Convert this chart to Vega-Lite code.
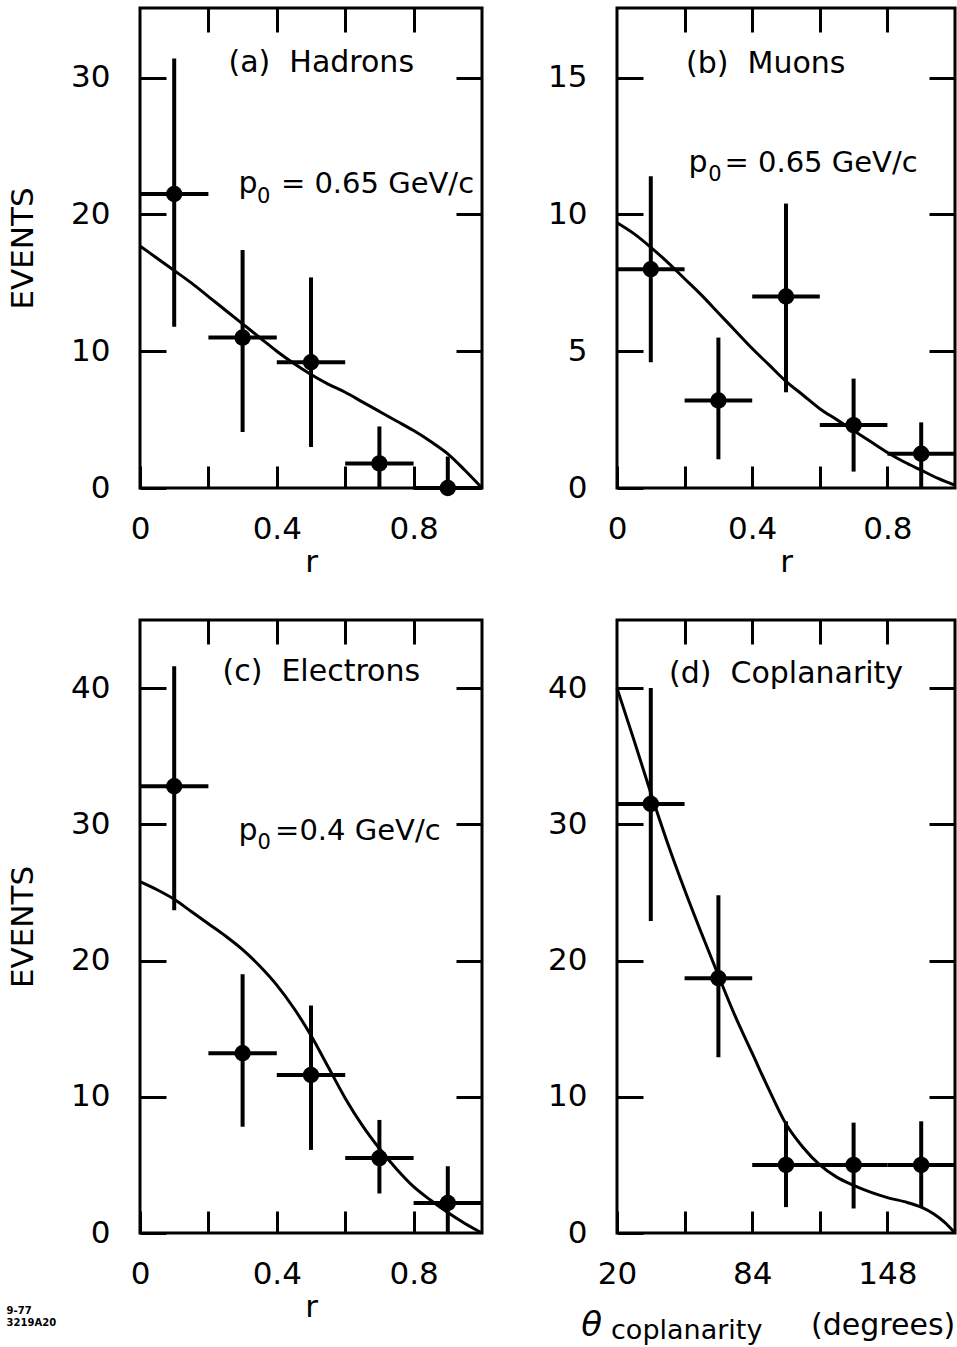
{
  "$schema": "https://vega.github.io/schema/vega-lite/v6.json",
  "background": "white",
  "padding": {"left": 5, "top": 5, "right": 0, "bottom": 0},
  "datasets": {
    "curves": [
      {"panel": "a", "x": 0, "y": 17.7}, {"panel": "a", "x": 0.05, "y": 16.8}, {"panel": "a", "x": 0.1, "y": 15.9}, {"panel": "a", "x": 0.15, "y": 15.0}, {"panel": "a", "x": 0.2, "y": 14.0}, {"panel": "a", "x": 0.25, "y": 13.0}, {"panel": "a", "x": 0.3, "y": 12.0}, {"panel": "a", "x": 0.35, "y": 11.0}, {"panel": "a", "x": 0.4, "y": 10.0}, {"panel": "a", "x": 0.45, "y": 9.1}, {"panel": "a", "x": 0.5, "y": 8.3}, {"panel": "a", "x": 0.55, "y": 7.6}, {"panel": "a", "x": 0.6, "y": 7.0}, {"panel": "a", "x": 0.65, "y": 6.3}, {"panel": "a", "x": 0.7, "y": 5.6}, {"panel": "a", "x": 0.75, "y": 4.9}, {"panel": "a", "x": 0.8, "y": 4.2}, {"panel": "a", "x": 0.85, "y": 3.4}, {"panel": "a", "x": 0.9, "y": 2.5}, {"panel": "a", "x": 0.95, "y": 1.3}, {"panel": "a", "x": 1.0, "y": 0},
      {"panel": "b", "x": 0, "y": 9.7}, {"panel": "b", "x": 0.05, "y": 9.3}, {"panel": "b", "x": 0.1, "y": 8.8}, {"panel": "b", "x": 0.15, "y": 8.25}, {"panel": "b", "x": 0.2, "y": 7.65}, {"panel": "b", "x": 0.25, "y": 7.05}, {"panel": "b", "x": 0.3, "y": 6.4}, {"panel": "b", "x": 0.35, "y": 5.75}, {"panel": "b", "x": 0.4, "y": 5.1}, {"panel": "b", "x": 0.45, "y": 4.5}, {"panel": "b", "x": 0.5, "y": 3.9}, {"panel": "b", "x": 0.55, "y": 3.4}, {"panel": "b", "x": 0.6, "y": 2.9}, {"panel": "b", "x": 0.65, "y": 2.5}, {"panel": "b", "x": 0.7, "y": 2.1}, {"panel": "b", "x": 0.75, "y": 1.7}, {"panel": "b", "x": 0.8, "y": 1.3}, {"panel": "b", "x": 0.85, "y": 0.95}, {"panel": "b", "x": 0.9, "y": 0.65}, {"panel": "b", "x": 0.95, "y": 0.35}, {"panel": "b", "x": 1.0, "y": 0.1},
      {"panel": "c", "x": 0, "y": 25.8}, {"panel": "c", "x": 0.05, "y": 25.2}, {"panel": "c", "x": 0.1, "y": 24.5}, {"panel": "c", "x": 0.15, "y": 23.6}, {"panel": "c", "x": 0.2, "y": 22.7}, {"panel": "c", "x": 0.25, "y": 21.8}, {"panel": "c", "x": 0.3, "y": 20.8}, {"panel": "c", "x": 0.35, "y": 19.6}, {"panel": "c", "x": 0.4, "y": 18.2}, {"panel": "c", "x": 0.45, "y": 16.5}, {"panel": "c", "x": 0.5, "y": 14.5}, {"panel": "c", "x": 0.55, "y": 12.2}, {"panel": "c", "x": 0.6, "y": 9.9}, {"panel": "c", "x": 0.65, "y": 7.9}, {"panel": "c", "x": 0.7, "y": 6.2}, {"panel": "c", "x": 0.75, "y": 4.7}, {"panel": "c", "x": 0.8, "y": 3.4}, {"panel": "c", "x": 0.85, "y": 2.4}, {"panel": "c", "x": 0.9, "y": 1.5}, {"panel": "c", "x": 0.95, "y": 0.7}, {"panel": "c", "x": 1.0, "y": 0},
      {"panel": "d", "x": 20, "y": 40}, {"panel": "d", "x": 28, "y": 36.2}, {"panel": "d", "x": 36, "y": 32.3}, {"panel": "d", "x": 44, "y": 28.6}, {"panel": "d", "x": 52, "y": 25.2}, {"panel": "d", "x": 60, "y": 22.0}, {"panel": "d", "x": 68, "y": 18.9}, {"panel": "d", "x": 76, "y": 15.9}, {"panel": "d", "x": 84, "y": 13.2}, {"panel": "d", "x": 92, "y": 10.5}, {"panel": "d", "x": 100, "y": 8.0}, {"panel": "d", "x": 108, "y": 6.3}, {"panel": "d", "x": 116, "y": 5.0}, {"panel": "d", "x": 124, "y": 4.1}, {"panel": "d", "x": 132, "y": 3.5}, {"panel": "d", "x": 140, "y": 3.0}, {"panel": "d", "x": 148, "y": 2.6}, {"panel": "d", "x": 156, "y": 2.3}, {"panel": "d", "x": 164, "y": 1.9}, {"panel": "d", "x": 170, "y": 1.4}, {"panel": "d", "x": 175, "y": 0.8}, {"panel": "d", "x": 180, "y": 0}
    ],
    "points": [
      {"panel": "a", "x": 0.1, "v": 21.5, "lo": 11.8, "hi": 31.4, "xlo": 0, "xhi": 0.2},
      {"panel": "a", "x": 0.3, "v": 11.0, "lo": 4.1, "hi": 17.4, "xlo": 0.2, "xhi": 0.4},
      {"panel": "a", "x": 0.5, "v": 9.2, "lo": 3.0, "hi": 15.4, "xlo": 0.4, "xhi": 0.6},
      {"panel": "a", "x": 0.7, "v": 1.8, "lo": 0, "hi": 4.5, "xlo": 0.6, "xhi": 0.8},
      {"panel": "a", "x": 0.9, "v": 0, "lo": 0, "hi": 2.3, "xlo": 0.8, "xhi": 1.0},
      {"panel": "b", "x": 0.1, "v": 8.0, "lo": 4.6, "hi": 11.4, "xlo": 0, "xhi": 0.2},
      {"panel": "b", "x": 0.3, "v": 3.2, "lo": 1.05, "hi": 5.5, "xlo": 0.2, "xhi": 0.4},
      {"panel": "b", "x": 0.5, "v": 7.0, "lo": 3.5, "hi": 10.4, "xlo": 0.4, "xhi": 0.6},
      {"panel": "b", "x": 0.7, "v": 2.3, "lo": 0.6, "hi": 4.0, "xlo": 0.6, "xhi": 0.8},
      {"panel": "b", "x": 0.9, "v": 1.25, "lo": 0, "hi": 2.4, "xlo": 0.8, "xhi": 1.0},
      {"panel": "c", "x": 0.1, "v": 32.8, "lo": 23.7, "hi": 41.6, "xlo": 0, "xhi": 0.2},
      {"panel": "c", "x": 0.3, "v": 13.2, "lo": 7.8, "hi": 19.0, "xlo": 0.2, "xhi": 0.4},
      {"panel": "c", "x": 0.5, "v": 11.6, "lo": 6.1, "hi": 16.7, "xlo": 0.4, "xhi": 0.6},
      {"panel": "c", "x": 0.7, "v": 5.5, "lo": 2.9, "hi": 8.3, "xlo": 0.6, "xhi": 0.8},
      {"panel": "c", "x": 0.9, "v": 2.2, "lo": 0, "hi": 4.9, "xlo": 0.8, "xhi": 1.0},
      {"panel": "d", "x": 36, "v": 31.5, "lo": 22.9, "hi": 40.0, "xlo": 20, "xhi": 52},
      {"panel": "d", "x": 68, "v": 18.7, "lo": 12.9, "hi": 24.8, "xlo": 52, "xhi": 84},
      {"panel": "d", "x": 100, "v": 5.0, "lo": 1.9, "hi": 8.2, "xlo": 84, "xhi": 116},
      {"panel": "d", "x": 132, "v": 5.0, "lo": 1.8, "hi": 8.1, "xlo": 116, "xhi": 148},
      {"panel": "d", "x": 164, "v": 5.0, "lo": 1.9, "hi": 8.2, "xlo": 148, "xhi": 180}
    ],
    "labels": [
      {"panel": "a", "kind": "main", "x": 0.53, "y": 31.1, "text": "(a)\u00a0\u00a0Hadrons"},
      {"panel": "a", "kind": "p", "x": 0.316, "y": 22.2, "text": "p"},
      {"panel": "a", "kind": "sub", "x": 0.362, "y": 21.3, "text": "0"},
      {"panel": "a", "kind": "eq", "x": 0.412, "y": 22.2, "text": "=\u00a00.65\u00a0GeV/c"},
      {"panel": "b", "kind": "main", "x": 0.44, "y": 15.5, "text": "(b)\u00a0\u00a0Muons"},
      {"panel": "b", "kind": "p", "x": 0.24, "y": 11.9, "text": "p"},
      {"panel": "b", "kind": "sub", "x": 0.29, "y": 11.45, "text": "0"},
      {"panel": "b", "kind": "eq", "x": 0.318, "y": 11.9, "text": "=\u00a00.65\u00a0GeV/c"},
      {"panel": "c", "kind": "main", "x": 0.53, "y": 41.2, "text": "(c)\u00a0\u00a0Electrons"},
      {"panel": "c", "kind": "p", "x": 0.316, "y": 29.5, "text": "p"},
      {"panel": "c", "kind": "sub", "x": 0.363, "y": 28.6, "text": "0"},
      {"panel": "c", "kind": "eq", "x": 0.395, "y": 29.5, "text": "=0.4\u00a0GeV/c"},
      {"panel": "c", "kind": "note", "x": -0.39, "y": -5.7, "text": "9-77"},
      {"panel": "c", "kind": "note", "x": -0.39, "y": -6.6, "text": "3219A20"},
      {"panel": "d", "kind": "main", "x": 100, "y": 41.0, "text": "(d)\u00a0\u00a0Coplanarity"},
      {"panel": "d", "kind": "theta", "x": 8, "y": -6.8, "text": "θ"},
      {"panel": "d", "kind": "coplan", "x": 53, "y": -7.2, "text": "coplanarity"},
      {"panel": "d", "kind": "main", "x": 146, "y": -6.8, "text": "(degrees)"}
    ]
  },
  "config": {
    "view": {"stroke": "black", "strokeWidth": 3},
    "axis": {"labelFont": "DejaVu Sans", "labelFontSize": 31, "labelColor": "black", "labelFlush": false, "titleFont": "DejaVu Sans", "titleFontSize": 31, "titleFontWeight": "normal", "titleColor": "black", "tickColor": "black", "tickWidth": 3, "domain": false, "grid": false},
    "text": {"font": "DejaVu Sans", "fontSize": 30, "color": "black"}
  },
  "concat": [
    {
      "width": 342, "height": 480,
      "layer": [
        {"data": {"name": "curves"}, "transform": [{"filter": "datum.panel == 'a'"}],
         "mark": {"type": "line", "color": "black", "strokeWidth": 3, "interpolate": "monotone"},
         "encoding": {
           "x": {"field": "x", "type": "quantitative", "scale": {"domain": [0, 1], "nice": false}, "axis": {"orient": "bottom", "values": [0, 0.2, 0.4, 0.6, 0.8], "format": "~g", "labelExpr": "(datum.value == 0.2 || datum.value == 0.6) ? '' : datum.label", "tickSize": -22, "labelPadding": 48, "title": "r", "titlePadding": 3}},
           "y": {"field": "y", "type": "quantitative", "scale": {"domain": [0, 35.1], "nice": false}, "axis": {"orient": "left", "values": [0, 10, 20, 30], "tickSize": -26, "labelPadding": 56, "title": "EVENTS", "titlePadding": 31}}
         }},
        {"data": {"name": "points"}, "transform": [{"filter": "datum.panel == 'a'"}],
         "mark": {"type": "rule", "color": "black", "strokeWidth": 4},
         "encoding": {
           "x": {"field": "x", "type": "quantitative", "scale": {"domain": [0, 1], "nice": false}, "axis": null},
           "y": {"field": "lo", "type": "quantitative", "scale": {"domain": [0, 35.1], "nice": false}, "axis": null},
           "y2": {"field": "hi"}
         }},
        {"data": {"name": "points"}, "transform": [{"filter": "datum.panel == 'a'"}],
         "mark": {"type": "rule", "color": "black", "strokeWidth": 4},
         "encoding": {
           "x": {"field": "xlo", "type": "quantitative", "scale": {"domain": [0, 1], "nice": false}, "axis": null},
           "x2": {"field": "xhi"},
           "y": {"field": "v", "type": "quantitative", "scale": {"domain": [0, 35.1], "nice": false}, "axis": null}
         }},
        {"data": {"name": "points"}, "transform": [{"filter": "datum.panel == 'a'"}],
         "mark": {"type": "point", "shape": "circle", "filled": true, "size": 270, "color": "black", "opacity": 1},
         "encoding": {
           "x": {"field": "x", "type": "quantitative", "scale": {"domain": [0, 1], "nice": false}, "axis": {"orient": "top", "values": [0.2, 0.4, 0.6, 0.8], "labels": false, "tickSize": -24, "title": null}},
           "y": {"field": "v", "type": "quantitative", "scale": {"domain": [0, 35.1], "nice": false}, "axis": {"orient": "right", "values": [10, 20, 30], "labels": false, "tickSize": -26, "title": null}}
         }},
        {"data": {"name": "labels"}, "transform": [{"filter": "datum.panel == 'a' && (datum.kind == 'main' || datum.kind == 'p')"}],
         "mark": {"type": "text", "baseline": "middle", "align": "center"},
         "encoding": {
           "x": {"field": "x", "type": "quantitative", "scale": {"domain": [0, 1], "nice": false}, "axis": null},
           "y": {"field": "y", "type": "quantitative", "scale": {"domain": [0, 35.1], "nice": false}, "axis": null},
           "text": {"field": "text"}
         }},
        {"data": {"name": "labels"}, "transform": [{"filter": "datum.panel == 'a' && datum.kind == 'sub'"}],
         "mark": {"type": "text", "baseline": "middle", "align": "center", "fontSize": 21},
         "encoding": {
           "x": {"field": "x", "type": "quantitative", "scale": {"domain": [0, 1], "nice": false}, "axis": null},
           "y": {"field": "y", "type": "quantitative", "scale": {"domain": [0, 35.1], "nice": false}, "axis": null},
           "text": {"field": "text"}
         }},
        {"data": {"name": "labels"}, "transform": [{"filter": "datum.panel == 'a' && datum.kind == 'eq'"}],
         "mark": {"type": "text", "baseline": "middle", "align": "left", "fontSize": 29},
         "encoding": {
           "x": {"field": "x", "type": "quantitative", "scale": {"domain": [0, 1], "nice": false}, "axis": null},
           "y": {"field": "y", "type": "quantitative", "scale": {"domain": [0, 35.1], "nice": false}, "axis": null},
           "text": {"field": "text"}
         }}
      ],
      "resolve": {"axis": {"x": "independent", "y": "independent"}}
    },
    {
      "width": 338, "height": 480,
      "layer": [
        {"data": {"name": "curves"}, "transform": [{"filter": "datum.panel == 'b'"}],
         "mark": {"type": "line", "color": "black", "strokeWidth": 3, "interpolate": "monotone"},
         "encoding": {
           "x": {"field": "x", "type": "quantitative", "scale": {"domain": [0, 1], "nice": false}, "axis": {"orient": "bottom", "values": [0, 0.2, 0.4, 0.6, 0.8], "format": "~g", "labelExpr": "(datum.value == 0.2 || datum.value == 0.6) ? '' : datum.label", "tickSize": -22, "labelPadding": 48, "title": "r", "titlePadding": 3}},
           "y": {"field": "y", "type": "quantitative", "scale": {"domain": [0, 17.55], "nice": false}, "axis": {"orient": "left", "values": [0, 5, 10, 15], "tickSize": -26, "labelPadding": 56, "title": null}}
         }},
        {"data": {"name": "points"}, "transform": [{"filter": "datum.panel == 'b'"}],
         "mark": {"type": "rule", "color": "black", "strokeWidth": 4},
         "encoding": {
           "x": {"field": "x", "type": "quantitative", "scale": {"domain": [0, 1], "nice": false}, "axis": null},
           "y": {"field": "lo", "type": "quantitative", "scale": {"domain": [0, 17.55], "nice": false}, "axis": null},
           "y2": {"field": "hi"}
         }},
        {"data": {"name": "points"}, "transform": [{"filter": "datum.panel == 'b'"}],
         "mark": {"type": "rule", "color": "black", "strokeWidth": 4},
         "encoding": {
           "x": {"field": "xlo", "type": "quantitative", "scale": {"domain": [0, 1], "nice": false}, "axis": null},
           "x2": {"field": "xhi"},
           "y": {"field": "v", "type": "quantitative", "scale": {"domain": [0, 17.55], "nice": false}, "axis": null}
         }},
        {"data": {"name": "points"}, "transform": [{"filter": "datum.panel == 'b'"}],
         "mark": {"type": "point", "shape": "circle", "filled": true, "size": 270, "color": "black", "opacity": 1},
         "encoding": {
           "x": {"field": "x", "type": "quantitative", "scale": {"domain": [0, 1], "nice": false}, "axis": {"orient": "top", "values": [0.2, 0.4, 0.6, 0.8], "labels": false, "tickSize": -24, "title": null}},
           "y": {"field": "v", "type": "quantitative", "scale": {"domain": [0, 17.55], "nice": false}, "axis": {"orient": "right", "values": [5, 10, 15], "labels": false, "tickSize": -26, "title": null}}
         }},
        {"data": {"name": "labels"}, "transform": [{"filter": "datum.panel == 'b' && (datum.kind == 'main' || datum.kind == 'p')"}],
         "mark": {"type": "text", "baseline": "middle", "align": "center"},
         "encoding": {
           "x": {"field": "x", "type": "quantitative", "scale": {"domain": [0, 1], "nice": false}, "axis": null},
           "y": {"field": "y", "type": "quantitative", "scale": {"domain": [0, 17.55], "nice": false}, "axis": null},
           "text": {"field": "text"}
         }},
        {"data": {"name": "labels"}, "transform": [{"filter": "datum.panel == 'b' && datum.kind == 'sub'"}],
         "mark": {"type": "text", "baseline": "middle", "align": "center", "fontSize": 21},
         "encoding": {
           "x": {"field": "x", "type": "quantitative", "scale": {"domain": [0, 1], "nice": false}, "axis": null},
           "y": {"field": "y", "type": "quantitative", "scale": {"domain": [0, 17.55], "nice": false}, "axis": null},
           "text": {"field": "text"}
         }},
        {"data": {"name": "labels"}, "transform": [{"filter": "datum.panel == 'b' && datum.kind == 'eq'"}],
         "mark": {"type": "text", "baseline": "middle", "align": "left", "fontSize": 29},
         "encoding": {
           "x": {"field": "x", "type": "quantitative", "scale": {"domain": [0, 1], "nice": false}, "axis": null},
           "y": {"field": "y", "type": "quantitative", "scale": {"domain": [0, 17.55], "nice": false}, "axis": null},
           "text": {"field": "text"}
         }}
      ],
      "resolve": {"axis": {"x": "independent", "y": "independent"}}
    },
    {
      "width": 342, "height": 613,
      "layer": [
        {"data": {"name": "curves"}, "transform": [{"filter": "datum.panel == 'c'"}],
         "mark": {"type": "line", "color": "black", "strokeWidth": 3, "interpolate": "monotone"},
         "encoding": {
           "x": {"field": "x", "type": "quantitative", "scale": {"domain": [0, 1], "nice": false}, "axis": {"orient": "bottom", "values": [0, 0.2, 0.4, 0.6, 0.8], "format": "~g", "labelExpr": "(datum.value == 0.2 || datum.value == 0.6) ? '' : datum.label", "tickSize": -22, "labelPadding": 48, "title": "r", "titlePadding": 3}},
           "y": {"field": "y", "type": "quantitative", "scale": {"domain": [0, 45], "nice": false}, "axis": {"orient": "left", "values": [0, 10, 20, 30, 40], "tickSize": -26, "labelPadding": 56, "title": "EVENTS", "titlePadding": 31}}
         }},
        {"data": {"name": "points"}, "transform": [{"filter": "datum.panel == 'c'"}],
         "mark": {"type": "rule", "color": "black", "strokeWidth": 4},
         "encoding": {
           "x": {"field": "x", "type": "quantitative", "scale": {"domain": [0, 1], "nice": false}, "axis": null},
           "y": {"field": "lo", "type": "quantitative", "scale": {"domain": [0, 45], "nice": false}, "axis": null},
           "y2": {"field": "hi"}
         }},
        {"data": {"name": "points"}, "transform": [{"filter": "datum.panel == 'c'"}],
         "mark": {"type": "rule", "color": "black", "strokeWidth": 4},
         "encoding": {
           "x": {"field": "xlo", "type": "quantitative", "scale": {"domain": [0, 1], "nice": false}, "axis": null},
           "x2": {"field": "xhi"},
           "y": {"field": "v", "type": "quantitative", "scale": {"domain": [0, 45], "nice": false}, "axis": null}
         }},
        {"data": {"name": "points"}, "transform": [{"filter": "datum.panel == 'c'"}],
         "mark": {"type": "point", "shape": "circle", "filled": true, "size": 270, "color": "black", "opacity": 1},
         "encoding": {
           "x": {"field": "x", "type": "quantitative", "scale": {"domain": [0, 1], "nice": false}, "axis": {"orient": "top", "values": [0.2, 0.4, 0.6, 0.8], "labels": false, "tickSize": -24, "title": null}},
           "y": {"field": "v", "type": "quantitative", "scale": {"domain": [0, 45], "nice": false}, "axis": {"orient": "right", "values": [10, 20, 30, 40], "labels": false, "tickSize": -26, "title": null}}
         }},
        {"data": {"name": "labels"}, "transform": [{"filter": "datum.panel == 'c' && (datum.kind == 'main' || datum.kind == 'p')"}],
         "mark": {"type": "text", "baseline": "middle", "align": "center"},
         "encoding": {
           "x": {"field": "x", "type": "quantitative", "scale": {"domain": [0, 1], "nice": false}, "axis": null},
           "y": {"field": "y", "type": "quantitative", "scale": {"domain": [0, 45], "nice": false}, "axis": null},
           "text": {"field": "text"}
         }},
        {"data": {"name": "labels"}, "transform": [{"filter": "datum.panel == 'c' && datum.kind == 'sub'"}],
         "mark": {"type": "text", "baseline": "middle", "align": "center", "fontSize": 21},
         "encoding": {
           "x": {"field": "x", "type": "quantitative", "scale": {"domain": [0, 1], "nice": false}, "axis": null},
           "y": {"field": "y", "type": "quantitative", "scale": {"domain": [0, 45], "nice": false}, "axis": null},
           "text": {"field": "text"}
         }},
        {"data": {"name": "labels"}, "transform": [{"filter": "datum.panel == 'c' && datum.kind == 'eq'"}],
         "mark": {"type": "text", "baseline": "middle", "align": "left", "fontSize": 29},
         "encoding": {
           "x": {"field": "x", "type": "quantitative", "scale": {"domain": [0, 1], "nice": false}, "axis": null},
           "y": {"field": "y", "type": "quantitative", "scale": {"domain": [0, 45], "nice": false}, "axis": null},
           "text": {"field": "text"}
         }},
        {"data": {"name": "labels"}, "transform": [{"filter": "datum.panel == 'c' && datum.kind == 'note'"}],
         "mark": {"type": "text", "baseline": "middle", "align": "left", "fontSize": 10, "fontWeight": "bold"},
         "encoding": {
           "x": {"field": "x", "type": "quantitative", "scale": {"domain": [0, 1], "nice": false}, "axis": null},
           "y": {"field": "y", "type": "quantitative", "scale": {"domain": [0, 45], "nice": false}, "axis": null},
           "text": {"field": "text"}
         }}
      ],
      "resolve": {"axis": {"x": "independent", "y": "independent"}}
    },
    {
      "width": 338, "height": 613,
      "layer": [
        {"data": {"name": "curves"}, "transform": [{"filter": "datum.panel == 'd'"}],
         "mark": {"type": "line", "color": "black", "strokeWidth": 3, "interpolate": "monotone"},
         "encoding": {
           "x": {"field": "x", "type": "quantitative", "scale": {"domain": [20, 180], "nice": false}, "axis": {"orient": "bottom", "values": [20, 52, 84, 116, 148], "format": "d", "labelExpr": "(datum.value == 52 || datum.value == 116) ? '' : datum.label", "tickSize": -22, "labelPadding": 48, "title": null}},
           "y": {"field": "y", "type": "quantitative", "scale": {"domain": [0, 45], "nice": false}, "axis": {"orient": "left", "values": [0, 10, 20, 30, 40], "tickSize": -26, "labelPadding": 56, "title": null}}
         }},
        {"data": {"name": "points"}, "transform": [{"filter": "datum.panel == 'd'"}],
         "mark": {"type": "rule", "color": "black", "strokeWidth": 4},
         "encoding": {
           "x": {"field": "x", "type": "quantitative", "scale": {"domain": [20, 180], "nice": false}, "axis": null},
           "y": {"field": "lo", "type": "quantitative", "scale": {"domain": [0, 45], "nice": false}, "axis": null},
           "y2": {"field": "hi"}
         }},
        {"data": {"name": "points"}, "transform": [{"filter": "datum.panel == 'd'"}],
         "mark": {"type": "rule", "color": "black", "strokeWidth": 4},
         "encoding": {
           "x": {"field": "xlo", "type": "quantitative", "scale": {"domain": [20, 180], "nice": false}, "axis": null},
           "x2": {"field": "xhi"},
           "y": {"field": "v", "type": "quantitative", "scale": {"domain": [0, 45], "nice": false}, "axis": null}
         }},
        {"data": {"name": "points"}, "transform": [{"filter": "datum.panel == 'd'"}],
         "mark": {"type": "point", "shape": "circle", "filled": true, "size": 270, "color": "black", "opacity": 1},
         "encoding": {
           "x": {"field": "x", "type": "quantitative", "scale": {"domain": [20, 180], "nice": false}, "axis": {"orient": "top", "values": [52, 84, 116, 148], "labels": false, "tickSize": -24, "title": null}},
           "y": {"field": "v", "type": "quantitative", "scale": {"domain": [0, 45], "nice": false}, "axis": {"orient": "right", "values": [10, 20, 30, 40], "labels": false, "tickSize": -26, "title": null}}
         }},
        {"data": {"name": "labels"}, "transform": [{"filter": "datum.panel == 'd' && datum.kind == 'main'"}],
         "mark": {"type": "text", "baseline": "middle", "align": "center"},
         "encoding": {
           "x": {"field": "x", "type": "quantitative", "scale": {"domain": [20, 180], "nice": false}, "axis": null},
           "y": {"field": "y", "type": "quantitative", "scale": {"domain": [0, 45], "nice": false}, "axis": null},
           "text": {"field": "text"}
         }},
        {"data": {"name": "labels"}, "transform": [{"filter": "datum.panel == 'd' && datum.kind == 'theta'"}],
         "mark": {"type": "text", "baseline": "middle", "align": "center", "fontSize": 34, "fontStyle": "italic"},
         "encoding": {
           "x": {"field": "x", "type": "quantitative", "scale": {"domain": [20, 180], "nice": false}, "axis": null},
           "y": {"field": "y", "type": "quantitative", "scale": {"domain": [0, 45], "nice": false}, "axis": null},
           "text": {"field": "text"}
         }},
        {"data": {"name": "labels"}, "transform": [{"filter": "datum.panel == 'd' && datum.kind == 'coplan'"}],
         "mark": {"type": "text", "baseline": "middle", "align": "center", "fontSize": 27},
         "encoding": {
           "x": {"field": "x", "type": "quantitative", "scale": {"domain": [20, 180], "nice": false}, "axis": null},
           "y": {"field": "y", "type": "quantitative", "scale": {"domain": [0, 45], "nice": false}, "axis": null},
           "text": {"field": "text"}
         }}
      ],
      "resolve": {"axis": {"x": "independent", "y": "independent"}}
    }
  ],
  "columns": 2,
  "spacing": {"row": 132, "column": 135},
  "bounds": "flush"
}
